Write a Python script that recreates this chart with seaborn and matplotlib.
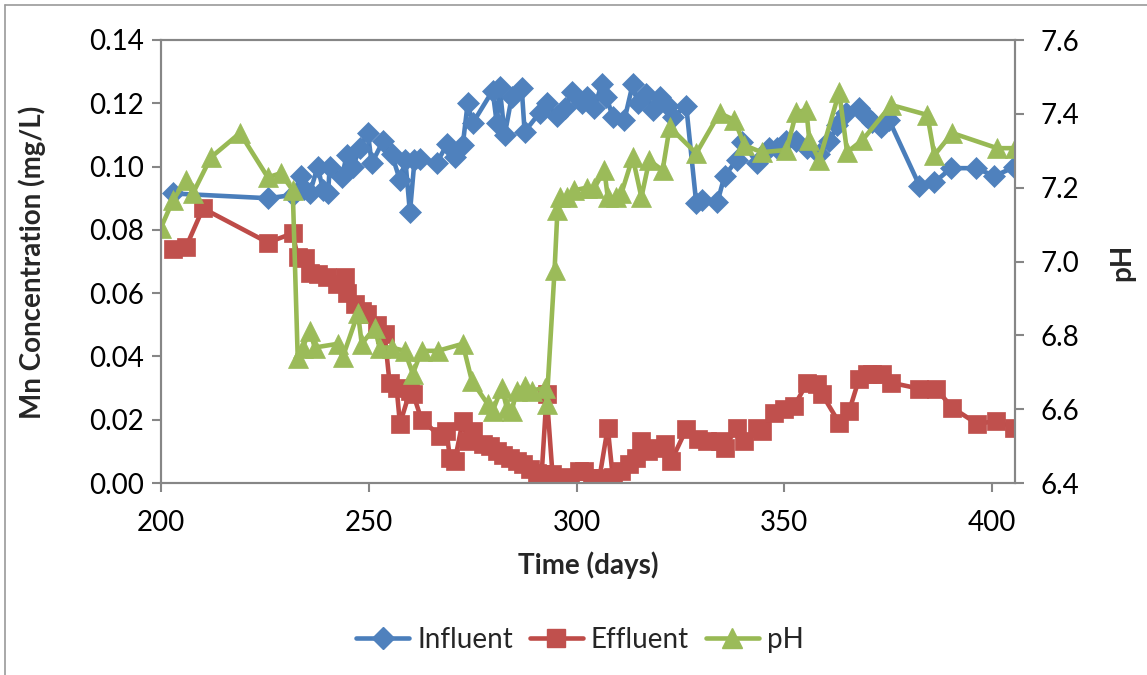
import numpy as np
import pandas as pd
import matplotlib
matplotlib.use("Agg")
import matplotlib.pyplot as plt
from matplotlib.lines import Line2D
import seaborn as sns

# ---------------- data ----------------
inf_day = [202.9, 225.7, 231.7, 233.7, 234.5, 235.8, 237.7, 239.0, 240.2, 240.6,
           243.5, 244.7, 246.2, 247.8, 249.8, 250.7, 253.4, 255.5, 257.5, 258.8,
           259.9, 261.0, 262.3, 266.3, 268.8, 270.7, 272.6, 273.8, 275.0, 279.8,
           280.8, 281.5, 282.7, 284.4, 286.8, 287.5, 291.1, 292.8, 295.2, 297.1,
           299.0, 301.2, 302.6, 304.3, 306.0, 307.2, 308.7, 311.5, 313.5, 314.7,
           316.8, 318.3, 320.0, 321.9, 323.1, 326.4, 328.8, 330.3, 333.9, 335.6,
           338.5, 339.9, 343.5, 346.4, 348.3, 350.5, 352.9, 355.5, 358.4, 360.8,
           362.7, 364.9, 368.0, 369.7, 371.2, 373.3, 375.2, 382.5, 386.1, 390.1,
           396.2, 400.5, 405.3]
inf_val = [0.0915, 0.0900, 0.0910, 0.0970, 0.0930, 0.0915, 0.1000, 0.0925, 0.0915, 0.1000,
           0.0966, 0.1036, 0.0998, 0.1060, 0.1105, 0.1010, 0.1080, 0.1040, 0.0957, 0.1020,
           0.0855, 0.1020, 0.1025, 0.1010, 0.1070, 0.1030, 0.1067, 0.1200, 0.1137, 0.1240,
           0.1137, 0.1250, 0.1100, 0.1220, 0.1248, 0.1110, 0.1170, 0.1200, 0.1160, 0.1185,
           0.1235, 0.1200, 0.1220, 0.1185, 0.1260, 0.1220, 0.1157, 0.1147, 0.1260, 0.1200,
           0.1230, 0.1180, 0.1220, 0.1190, 0.1157, 0.1190, 0.0884, 0.0893, 0.0888, 0.0970,
           0.1020, 0.1077, 0.1010, 0.1060, 0.1058, 0.1080, 0.1080, 0.1060, 0.1040, 0.1080,
           0.1130, 0.1170, 0.1185, 0.1160, 0.1140, 0.1125, 0.1147, 0.0940, 0.0950, 0.0995,
           0.0995, 0.0970, 0.0998]

eff_day = [202.9, 206.0, 210.1, 225.7, 231.7, 232.9, 234.6, 235.8, 237.7, 239.9,
           242.3, 244.2, 244.8, 246.6, 248.3, 249.5, 251.9, 253.8, 255.0, 256.7,
           257.5, 259.9, 260.7, 262.7, 267.1, 268.7, 269.5, 270.7, 272.6, 273.8,
           275.0, 277.4, 279.1, 280.8, 282.2, 283.9, 285.6, 287.0, 288.7, 290.4,
           291.6, 292.8, 294.2, 295.9, 298.3, 300.7, 301.9, 303.8, 305.5, 307.5,
           308.7, 310.8, 312.7, 314.4, 315.6, 317.1, 318.8, 321.2, 322.8, 326.4,
           329.1, 331.5, 334.4, 335.6, 338.5, 340.4, 343.3, 344.5, 347.6, 350.0,
           352.4, 355.5, 357.9, 359.1, 363.2, 365.6, 368.0, 369.9, 371.2, 373.6,
           375.7, 382.5, 386.5, 390.4, 396.4, 401.0, 405.3]
eff_val = [0.0741, 0.0745, 0.0868, 0.0760, 0.0789, 0.0713, 0.0710, 0.0665, 0.0660, 0.0650,
           0.0630, 0.0650, 0.0600, 0.0567, 0.0545, 0.0535, 0.0500, 0.0470, 0.0317, 0.0300,
           0.0187, 0.0290, 0.0280, 0.0200, 0.0149, 0.0165, 0.0080, 0.0070, 0.0196, 0.0133,
           0.0165, 0.0123, 0.0117, 0.0100, 0.0090, 0.0080, 0.0070, 0.0060, 0.0044, 0.0032,
           0.0029, 0.0280, 0.0029, 0.0016, 0.0020, 0.0038, 0.0038, 0.0016, 0.0016, 0.0175,
           0.0020, 0.0038, 0.0060, 0.0080, 0.0133, 0.0100, 0.0110, 0.0123, 0.0070, 0.0170,
           0.0140, 0.0133, 0.0133, 0.0110, 0.0175, 0.0133, 0.0175, 0.0165, 0.0220, 0.0234,
           0.0244, 0.0317, 0.0313, 0.0280, 0.0190, 0.0228, 0.0330, 0.0345, 0.0345, 0.0345,
           0.0317, 0.0298, 0.0298, 0.0238, 0.0187, 0.0196, 0.0174]

ph_day = [200.0, 202.9, 206.0, 207.7, 212.0, 219.0, 225.7, 228.8, 231.7, 232.9,
          234.1, 235.8, 237.0, 242.5, 243.7, 247.4, 248.3, 251.4, 252.6, 255.5,
          258.6, 260.6, 262.7, 266.6, 272.6, 274.8, 278.6, 279.8, 282.0, 283.2,
          284.4, 285.6, 287.5, 289.2, 292.3, 292.8, 294.7, 295.4, 295.9, 297.6,
          299.5, 302.4, 304.3, 306.7, 307.5, 309.6, 310.8, 313.5, 315.6, 317.5,
          320.7, 322.4, 328.8, 334.4, 338.0, 340.4, 344.5, 350.5, 352.9, 355.3,
          356.0, 358.4, 363.2, 365.1, 368.8, 375.7, 384.4, 386.1, 390.4, 401.2,
          405.5]
ph_val = [7.092, 7.166, 7.220, 7.185, 7.282, 7.348, 7.228, 7.239, 7.193, 6.739,
          6.767, 6.813, 6.767, 6.777, 6.740, 6.860, 6.777, 6.820, 6.767, 6.767,
          6.758, 6.696, 6.758, 6.758, 6.777, 6.677, 6.614, 6.595, 6.658, 6.604,
          6.595, 6.650, 6.663, 6.650, 6.658, 6.614, 6.976, 7.139, 7.174, 7.174,
          7.193, 7.200, 7.200, 7.247, 7.174, 7.174, 7.185, 7.282, 7.174, 7.274,
          7.247, 7.364, 7.293, 7.402, 7.383, 7.315, 7.296, 7.302, 7.405, 7.410,
          7.329, 7.274, 7.459, 7.296, 7.329, 7.424, 7.397, 7.288, 7.348, 7.307,
          7.307]

x_ticks = [200, 250, 300, 350, 400]
left_ticks = [0.00, 0.02, 0.04, 0.06, 0.08, 0.10, 0.12, 0.14]
right_ticks = [6.4, 6.6, 6.8, 7.0, 7.2, 7.4, 7.6]

# ---------------- style ----------------
sns.set_style("white")
plt.rcParams["font.family"] = ["Lato", "DejaVu Sans"]

FS = 20
GRAY = "#868686"
C_INF, C_INF_M = "#4A7EBB", "#4F81BD"
C_EFF, C_EFF_M = "#BE4B48", "#C0504D"
C_PH, C_PH_M = "#98B954", "#9BBB59"

fig = plt.figure(figsize=(11.47, 6.75), dpi=100)
ax = fig.add_axes([161 / 1147, 1 - 483 / 675, (1015 - 161) / 1147, (483 - 40) / 675])
ax2 = ax.twinx()

df_inf = pd.DataFrame({"day": inf_day, "val": inf_val})
df_eff = pd.DataFrame({"day": eff_day, "val": eff_val})
df_ph = pd.DataFrame({"day": ph_day, "val": ph_val})

sns.lineplot(data=df_inf, x="day", y="val", ax=ax, sort=False, color=C_INF, lw=3.3,
             marker="D", markersize=11.5, markerfacecolor=C_INF_M, markeredgecolor=C_INF_M,
             markeredgewidth=0.5)
sns.lineplot(data=df_eff, x="day", y="val", ax=ax, sort=False, color=C_EFF, lw=3.3,
             marker="s", markersize=13, markerfacecolor=C_EFF_M, markeredgecolor=C_EFF_M,
             markeredgewidth=0.5)
sns.lineplot(data=df_ph, x="day", y="val", ax=ax2, sort=False, color=C_PH, lw=3.3,
             marker="^", markersize=14, markerfacecolor=C_PH_M, markeredgecolor=C_PH_M,
             markeredgewidth=0.5)

ax.set_xlim(200, 405.5)
ax.set_ylim(0, 0.14)
ax2.set_ylim(6.4, 7.6)
ax.set_xticks(x_ticks)
ax.set_xticklabels([str(t) for t in x_ticks])
ax.set_yticks(left_ticks)
ax.set_yticklabels([f"{t:.2f}" for t in left_ticks])
ax2.set_yticks(right_ticks)
ax2.set_yticklabels([f"{t:.1f}" for t in right_ticks])

for a in (ax, ax2):
    for s in a.spines.values():
        s.set_color(GRAY)
        s.set_linewidth(1.5)
        s.set_visible(True)
    a.tick_params(axis="both", which="major", direction="out", length=6.5, width=1.5,
                  color=GRAY, labelsize=FS, labelcolor="black")
    a.grid(False)
    a.set_xlabel("")
    a.set_ylabel("")
ax.tick_params(axis="y", pad=6, left=True)
ax.tick_params(axis="x", pad=13, bottom=True)
ax2.tick_params(axis="y", pad=12, right=True)

fig.text(32 / 1147, 1 - 262 / 675, "Mn Concentration (mg/L)", rotation=90,
         ha="center", va="center", fontsize=FS, fontweight="bold")
fig.text(588 / 1147, 1 - 565 / 675, "Time (days)", ha="center", va="center",
         fontsize=FS, fontweight="bold")
fig.text(1122 / 1147, 1 - 262 / 675, "pH", rotation=90, ha="center", va="center",
         fontsize=FS, fontweight="bold")

handles = [
    Line2D([], [], color=C_INF, lw=3.3, marker="D", markersize=11.5,
           markerfacecolor=C_INF_M, markeredgecolor=C_INF_M),
    Line2D([], [], color=C_EFF, lw=3.3, marker="s", markersize=13,
           markerfacecolor=C_EFF_M, markeredgecolor=C_EFF_M),
    Line2D([], [], color=C_PH, lw=3.3, marker="^", markersize=14,
           markerfacecolor=C_PH_M, markeredgecolor=C_PH_M),
]
fig.legend(handles, ["Influent", "Effluent", "pH"], loc="center",
           bbox_to_anchor=(580 / 1147, 1 - 640 / 675), ncol=3, frameon=False,
           fontsize=FS, handlelength=1.9, handletextpad=0.3, columnspacing=0.6)

# chart-area border (top and left edges visible)
fig.add_artist(Line2D([5 / 1147, 1.0], [1 - 5 / 675, 1 - 5 / 675], transform=fig.transFigure,
                      color="#9a9a9a", lw=1.2))
fig.add_artist(Line2D([5 / 1147, 5 / 1147], [0.0, 1 - 5 / 675], transform=fig.transFigure,
                      color="#9a9a9a", lw=1.2))

fig.savefig("out.png", dpi=100)
